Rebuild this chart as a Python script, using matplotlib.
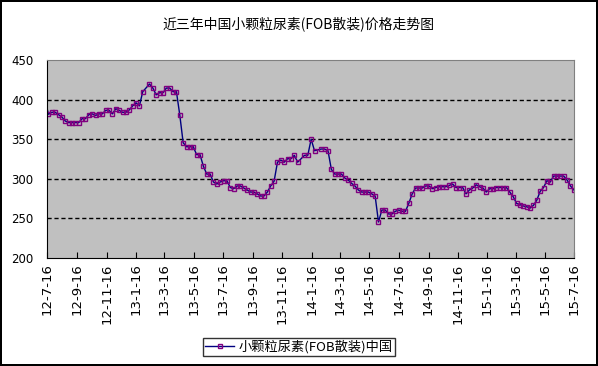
import numpy as np
import pandas as pd
import matplotlib
matplotlib.use('Agg')
import matplotlib.pyplot as plt

plt.rcParams['font.family'] = ['Noto Sans CJK SC', 'DejaVu Sans']

# weekly prices (USD/t), None = no quote that week
start = '2012-07-11'
prices = [400,
          381.5, 384, 384, 381, 378, 373, 371, 371, 371, 371,
          376, 376, 381, 382, 380, 382, 382, 386.5, 386.5, 382,
          388.5, 386.5, 384, 384, 387, 392, 396, 392, 410, None,
          419.7, 414.6, 406, 408.7, 408.7, 414.6, 414.6, 410, 410, 380.5,
          345.6, 340.5, 340.5, 340.5, 330.5, 330.5, 316, 306, 306, 296,
          293.4, 296, 297.6, 297.6, 289, 287.5, 291, 291, 288.4, 286,
          283.3, 283.3, 281, 278.3, 278.3, 283.3, 291, 297, 321, 323.7,
          321, 325.4, 325.4, 329.6, 321, None, 329.6, 329.6, 350, 335.5,
          None, 337.6, 337.6, 335.5, 312, 306, 306, 306, 301, 298.5,
          294.3, 291, 286, 283.3, 283.3, 283.3, 281, 278.3, 245.5, 260.6,
          260.6, 255.6, 255.6, 259, 260.6, 259, 259, 269, 281, 288.4,
          288.4, 288.4, 291, 291, 287.5, 289, 290, 290, 290, 291.7,
          293.4, 289, 289, 289, 281, 286, 288.4, 292.5, 290, 288.4,
          283.3, 287.5, 287.5, 289, 289, 289, 289, 283.3, 277.4, 269,
          267.3, 265.7, 264.8, 263, 266.5, 273, 284.2, 289, 297.6, 296,
          303.5, 303.5, 303.5, 303.5, 298.5, 291, 286]

tick_labels = ['12-7-16', '12-9-16', '12-11-16', '13-1-16', '13-3-16', '13-5-16',
               '13-7-16', '13-9-16', '13-11-16', '14-1-16', '14-3-16', '14-5-16',
               '14-7-16', '14-9-16', '14-11-16', '15-1-16', '15-3-16', '15-5-16',
               '15-7-16']

title = '近三年中国小颗粒尿素(FOB散装)价格走势图'
series_name = '小颗粒尿素(FOB散装)中国'

dates = pd.date_range(start, periods=len(prices), freq='7D')
s = pd.Series(prices, index=dates, dtype=float).dropna()
tick_dates = pd.to_datetime(tick_labels, format='%y-%m-%d')

fig = plt.figure(figsize=(5.98, 3.66), dpi=100, edgecolor='black', linewidth=1.5)
ax = fig.add_axes([0.0794, 0.295, 0.881, 0.541])
ax.set_facecolor('#C0C0C0')

# line only for the first (off-axis) week, markers from the first visible one
ax.plot(s.index, s.values, '-', color='#000080', lw=1)
ax.plot(s.index[1:], s.values[1:], 's', ms=3.4, mfc='none', mec='#800080', mew=1)
ax.plot([], [], '-s', color='#000080', lw=1, ms=3.4, mfc='none', mec='#800080',
        mew=1, label=series_name)

ax.set_xlim(tick_dates[0], tick_dates[-1])
ax.set_ylim(200, 450)
ax.set_yticks(np.arange(200, 451, 50))
ax.set_xticks(tick_dates)
ax.set_xticklabels(tick_labels, rotation=90, fontsize=9.5, family='DejaVu Sans')
ax.tick_params(axis='y', length=0, pad=10, labelsize=8.5)
ax.tick_params(axis='x', direction='in', length=4, pad=4, color='black')
for lab in ax.get_yticklabels():
    lab.set_family('DejaVu Sans')

for y in [250, 300, 350, 400]:
    ax.axhline(y, color='black', lw=1, dashes=(3, 2), zorder=1)

ax.spines['left'].set_color('black')
ax.spines['bottom'].set_color('black')
ax.spines['top'].set_color('#808080')
ax.spines['right'].set_color('#808080')

fig.text(0.5, 0.935, title, ha='center', va='center', fontsize=10)

leg = fig.legend(loc='center', bbox_to_anchor=(0.5, 0.052), fontsize=9.5,
                 frameon=True, fancybox=False, edgecolor='black',
                 handlelength=2.2, borderpad=0.2, handletextpad=0.3)
leg.get_frame().set_linewidth(1)

fig.savefig('out.png', dpi=100)
